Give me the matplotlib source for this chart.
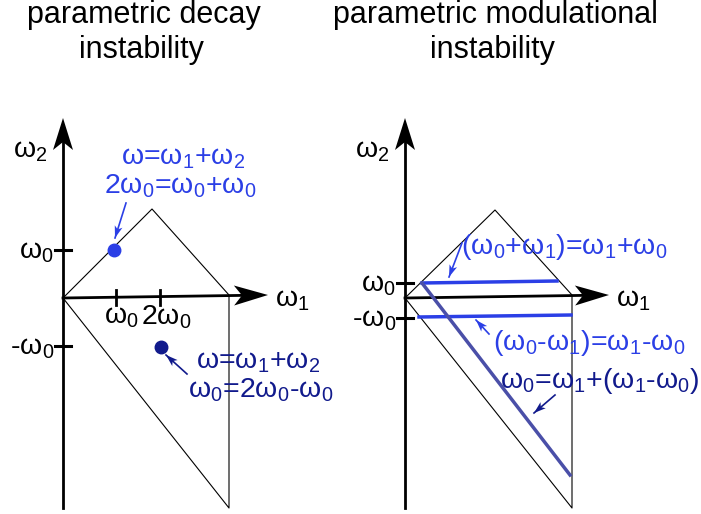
import matplotlib
matplotlib.use("Agg")
import matplotlib.pyplot as plt
import numpy as np
from matplotlib.patches import Polygon

plt.rcParams['font.family'] = ['Liberation Sans', 'DejaVu Sans']
plt.rcParams['mathtext.fontset'] = 'custom'
plt.rcParams['mathtext.rm'] = 'Liberation Sans'
plt.rcParams['mathtext.it'] = 'Liberation Sans'
plt.rcParams['mathtext.bf'] = 'Liberation Sans'

BLUE = '#2b3fe6'
NAVY = '#111a8c'
SLATE = '#4a4fa8'

# ---- diagram geometry (pixel space) ----
title_lines = [("parametric decay", "instability"), ("parametric modulational", "instability")]
title_x = [144, 495]

# left panel
L_origin = (63, 298)
L_yaxis_top = (63, 118)
L_yaxis_bot = (63, 508)
L_xaxis_tip = (268, 295)
L_triangle = [(63, 298), (152, 209), (229, 295), (229, 508), (63, 298)]
L_yticks = [250, 346]
L_ytick_labels = ["ω$_0$", "-ω$_0$"]
L_xticks = [116, 160]
L_xtick_labels = ["ω$_0$", "2ω$_0$"]
L_dots = [(114, 250, BLUE), (161, 347, NAVY)]

# right panel
R_origin = (405, 298)
R_yaxis_top = (405, 118)
R_yaxis_bot = (405, 508)
R_xaxis_tip = (609, 295)
R_triangle = [(405, 298), (495, 210), (572, 295), (572, 508), (405, 298)]
R_yticks = [283, 318]
R_ytick_labels = ["ω$_0$", "-ω$_0$"]
R_hlines = [((422, 283), (557, 281)), ((419, 317), (571, 315))]
R_diag = ((422, 283), (570, 475))

fig = plt.figure(figsize=(7.01, 5.14), dpi=100)
ax = fig.add_axes([0, 0, 1, 1])
ax.set_xlim(0, 701)
ax.set_ylim(514, 0)
ax.axis('off')

FS = 20.5
TFS = 22


def head(tip, direction, length=30, width=20, notch=8, color='k'):
    d = np.array(direction, float)
    d /= np.linalg.norm(d)
    n = np.array([-d[1], d[0]])
    t = np.array(tip, float)
    back = t - d * length
    pts = [t, back + n * width / 2, t - d * (length - notch), back - n * width / 2]
    ax.add_patch(Polygon(pts, closed=True, color=color, lw=0, zorder=5))


def small_arrow(start, end, color):
    s = np.array(start, float)
    e = np.array(end, float)
    ax.plot([s[0], e[0]], [s[1], e[1]], color=color, lw=1.2)
    head(end, e - s, length=12, width=8, notch=3, color=color)


def panel(origin, ytop, ybot, xtip, tri, yticks, ylabels):
    ax.plot([ytop[0], ybot[0]], [ytop[1] + 20, ybot[1]], color='k', lw=2)
    head(ytop, (0, -1), length=32, width=20, notch=8)
    ax.plot([origin[0], xtip[0] - 20], [origin[1], xtip[1] + 0.3], color='k', lw=2)
    head(xtip, (xtip[0] - origin[0], xtip[1] - origin[1]), length=34, width=20, notch=8)
    xs, ys = zip(*tri)
    ax.plot(xs, ys, color='k', lw=0.8)
    for yt, lab in zip(yticks, ylabels):
        ax.plot([origin[0] - 8, origin[0] + 8], [yt, yt], color='k', lw=2.2)
        ax.text(origin[0] - 9, yt + 2, lab, fontsize=FS, ha='right', va='center')
    ax.text(ytop[0] - 50, 151, "ω$_2$", fontsize=FS, ha='left', va='center')
    ax.text(xtip[0] + 7, 300, "ω$_1$", fontsize=FS, ha='left', va='center')


for (l1, l2), x in zip(title_lines, title_x):
    ax.text(x, 23, l1, fontsize=TFS, ha='center', va='baseline')
    ax.text(x - 3, 58, l2, fontsize=TFS, ha='center', va='baseline')

panel(L_origin, L_yaxis_top, L_yaxis_bot, L_xaxis_tip, L_triangle, L_yticks, L_ytick_labels)
panel(R_origin, R_yaxis_top, R_yaxis_bot, R_xaxis_tip, R_triangle, R_yticks, R_ytick_labels)

# left x ticks
for xt, lab in zip(L_xticks, L_xtick_labels):
    ax.plot([xt, xt], [290, 305], color='k', lw=2)
ax.text(121, 317, "ω$_0$", fontsize=FS, ha='center', va='center')
ax.text(166, 317, "2ω$_0$", fontsize=FS, ha='center', va='center')

for x, y, c in L_dots:
    ax.plot(x, y, 'o', color=c, ms=9, zorder=6)

ax.text(183, 158, "ω=ω$_1$+ω$_2$", fontsize=FS, color=BLUE, ha='center', va='center')
ax.text(180, 186, "2ω$_0$=ω$_0$+ω$_0$", fontsize=FS, color=BLUE, ha='center', va='center')
small_arrow((126, 203), (115, 238), BLUE)

ax.text(258, 362, "ω=ω$_1$+ω$_2$", fontsize=FS, color=NAVY, ha='center', va='center')
ax.text(261, 390, "ω$_0$=2ω$_0$-ω$_0$", fontsize=FS, color=NAVY, ha='center', va='center')
small_arrow((187, 374), (166, 355), NAVY)

# right panel extra lines
for (a, b) in R_hlines:
    ax.plot([a[0], b[0]], [a[1], b[1]], color=BLUE, lw=2.5)
ax.plot([R_diag[0][0], R_diag[1][0]], [R_diag[0][1], R_diag[1][1]], color=SLATE, lw=2.5)

ax.text(564, 247, "(ω$_0$+ω$_1$)=ω$_1$+ω$_0$", fontsize=FS, color=BLUE, ha='center', va='center')
small_arrow((462, 243), (449, 277), BLUE)
ax.text(589, 343, "(ω$_0$-ω$_1$)=ω$_1$-ω$_0$", fontsize=FS, color=BLUE, ha='center', va='center')
small_arrow((489, 334), (476, 320), BLUE)
ax.text(600, 381, "ω$_0$=ω$_1$+(ω$_1$-ω$_0$)", fontsize=FS, color=NAVY, ha='center', va='center')
small_arrow((555, 395), (534, 413), NAVY)

fig.savefig("out.png", dpi=100)
